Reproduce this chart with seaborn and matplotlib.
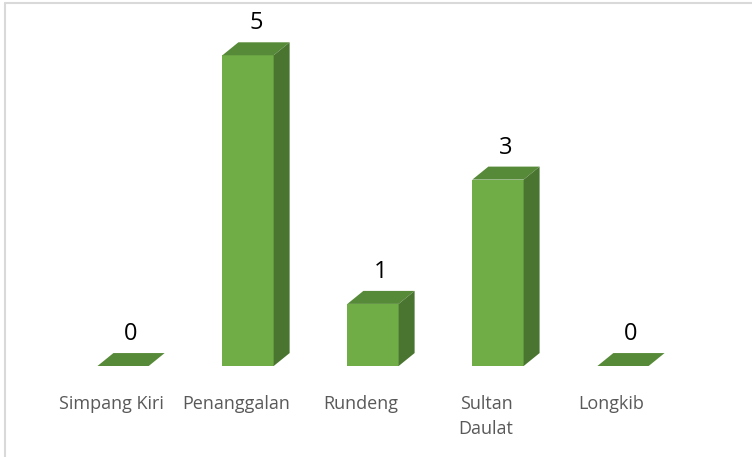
import matplotlib
matplotlib.use("Agg")
import matplotlib.pyplot as plt
import matplotlib.transforms as mtransforms
from matplotlib.patches import Polygon
from matplotlib.lines import Line2D
import seaborn as sns
import pandas as pd

categories = ["Simpang Kiri", "Penanggalan", "Rundeng", "Sultan\nDaulat", "Longkib"]
values = [0, 5, 1, 3, 0]

FRONT = "#70AD47"
TOP = "#578A38"
SIDE = "#4A7530"
DEPTH_PX = (16, 13)

sns.set_theme(style="white")
plt.rcParams["font.family"] = ["Open Sans", "DejaVu Sans"]

fig = plt.figure(figsize=(7.52, 4.57), dpi=100)
ax = fig.add_axes([0.0805, 0.199, 0.831, 0.748])
df = pd.DataFrame({"cat": categories, "val": values})
sns.barplot(data=df, x="cat", y="val", color=FRONT, width=0.41, ax=ax,
            saturation=1, linewidth=0, zorder=3)
ax.set_xlim(-0.5, 4.5)
ax.set_ylim(0, 5.5)
ax.set_xlabel("")
ax.set_ylabel("")
ax.set_yticks([])
for s in ax.spines.values():
    s.set_visible(False)

# depth offsets in data units
inv = ax.transData.inverted()
p0 = inv.transform(ax.transData.transform((0, 0)))
p1 = inv.transform(ax.transData.transform((0, 0)) + DEPTH_PX)
dx, dy = p1 - p0

for patch, v in zip(ax.patches, values):
    x0 = patch.get_x()
    w = patch.get_width()
    x1 = x0 + w
    h = patch.get_height()
    top = Polygon([(x0, h), (x1, h), (x1 + dx, h + dy), (x0 + dx, h + dy)],
                  closed=True, facecolor=TOP, edgecolor="none", zorder=4)
    ax.add_patch(top)
    if h > 0:
        side = Polygon([(x1, 0), (x1 + dx, dy), (x1 + dx, h + dy), (x1, h)],
                       closed=True, facecolor=SIDE, edgecolor="none", zorder=4)
        ax.add_patch(side)
    ax.annotate(f"{v}", xy=(x0 + w / 2 + dx / 2, h + dy), xytext=(0, 5),
                textcoords="offset points", ha="center", va="bottom",
                fontsize=17, color="#000000", zorder=5)

ax.tick_params(axis="x", length=0, pad=21, labelsize=13, labelcolor="#595959")
shift = mtransforms.ScaledTranslation(-12 / 100, 0, fig.dpi_scale_trans)
for lbl in ax.get_xticklabels():
    lbl.set_transform(lbl.get_transform() + shift)
    lbl.set_verticalalignment("top")
    lbl.set_linespacing(1.5)

# faint frame on top and left edges
fig.add_artist(Line2D([0.0065, 0.0065], [0.0, 0.993], transform=fig.transFigure,
                      color="#D9D9D9", linewidth=1.5))
fig.add_artist(Line2D([0.0065, 1.0], [0.993, 0.993], transform=fig.transFigure,
                      color="#D9D9D9", linewidth=1.5))

fig.savefig("out.png", dpi=100)
